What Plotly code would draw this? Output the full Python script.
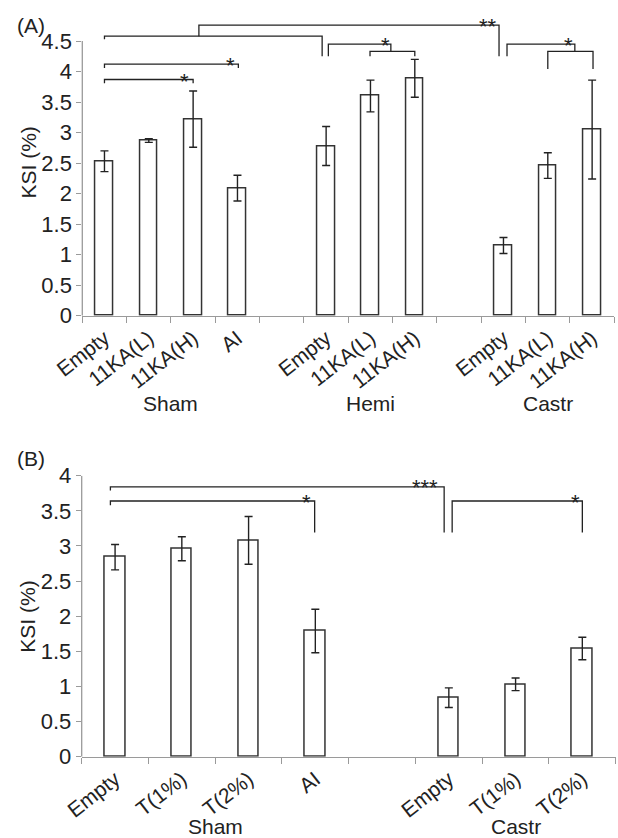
import plotly.graph_objects as go

# ---------------- data ----------------
# Panel A
a_groups = ["Sham", "Hemi", "Castr"]
a_labels = [["Empty", "11KA(L)", "11KA(H)", "AI"],
            ["Empty", "11KA(L)", "11KA(H)"],
            ["Empty", "11KA(L)", "11KA(H)"]]
a_values = [[2.53, 2.87, 3.22, 2.09],
            [2.78, 3.60, 3.89],
            [1.15, 2.46, 3.05]]
a_errors = [[0.17, 0.03, 0.46, 0.21],
            [0.32, 0.26, 0.31],
            [0.13, 0.21, 0.81]]
a_yticks = [0, 0.5, 1, 1.5, 2, 2.5, 3, 3.5, 4, 4.5]

# Panel B
b_groups = ["Sham", "Castr"]
b_labels = [["Empty", "T(1%)", "T(2%)", "AI"],
            ["Empty", "T(1%)", "T(2%)"]]
b_values = [[2.84, 2.96, 3.08, 1.79],
            [0.84, 1.03, 1.54]]
b_errors = [[0.18, 0.17, 0.34, 0.31],
            [0.14, 0.09, 0.16]]
b_yticks = [0, 0.5, 1, 1.5, 2, 2.5, 3, 3.5, 4]

# significance brackets: (x list, y list) in slot / KSI units
a_brackets = [
    ([0, 0, 4.91, 4.91], [4.53, 4.58, 4.58, 4.25]),
    ([2.13, 2.13, 8.90, 8.90], [4.58, 4.76, 4.76, 4.25]),
    ([0, 0, 3.02, 3.02], [4.06, 4.12, 4.12, 4.06]),
    ([0, 0, 2.0, 2.0], [3.81, 3.87, 3.87, 3.81]),
    ([5.05, 5.05, 6.46, 6.46], [4.25, 4.45, 4.45, 4.33]),
    ([5.99, 5.99, 7.0, 7.0], [4.25, 4.33, 4.33, 4.25]),
    ([9.08, 9.08, 10.61, 10.61], [4.25, 4.45, 4.45, 4.33]),
    ([10.0, 10.0, 11.02, 11.02], [4.04, 4.33, 4.33, 4.04]),
]
a_stars = [("**", 8.64, 4.84), ("*", 2.85, 4.20), ("*", 1.81, 3.94),
           ("*", 6.33, 4.53), ("*", 10.47, 4.53)]

b_brackets = [
    ([-0.07, -0.07, 4.93, 4.93], [3.79, 3.84, 3.84, 3.19]),
    ([-0.07, -0.07, 2.99, 2.99], [3.58, 3.64, 3.64, 3.19]),
    ([5.05, 5.05, 7.0, 7.0], [3.19, 3.64, 3.64, 3.19]),
]
b_stars = [("***", 4.65, 3.915), ("*", 2.87, 3.70), ("*", 6.90, 3.70)]

# ---------------- styling ----------------
W, H = 618, 838
FONT = "Liberation Sans, Arial, sans-serif"
TXT = "#222222"
AX = "#9a9a9a"
BAR_LINE = "#333333"
FS = 21

# panel geometry (paper fractions)
A_X = [82.3 / W, 614.3 / W]
A_Y = [1 - 315.7 / H, 1 - 10.5 / H]
A_RANGE = [0, 5.0]
B_X = [81.7 / W, 615.7 / W]
B_Y = [1 - 756.7 / H, 1 - 475.7 / H]
B_RANGE = [0, 4.0]


def layout_groups(labels):
    xs, txt, centers = [], [], []
    pos = 0
    for g in labels:
        px = list(range(pos, pos + len(g)))
        xs += px
        txt += g
        centers.append(sum(px) / len(px))
        pos += len(g) + 1
    return xs, txt, centers, pos - 1


fig = go.Figure()
annotations = []
shapes = []


def add_panel(xa, ya, groups, labels, values, errors, yticks, brackets,
              stars, xdom, ydom, yrange, barw, letter, letter_y, ksi_y, group_y):
    xs, txt, centers, nslots = layout_groups(labels)
    vals = [v for g in values for v in g]
    errs = [e for g in errors for e in g]
    fig.add_trace(go.Bar(
        x=xs, y=vals, width=barw, xaxis=xa, yaxis=ya,
        marker=dict(color="white", line=dict(color=BAR_LINE, width=1.5)),
        error_y=dict(type="data", array=errs, visible=True,
                     color=TXT, thickness=1.4, width=4),
        showlegend=False, hoverinfo="skip"))
    for bx, by in brackets:
        fig.add_trace(go.Scatter(
            x=bx, y=by, mode="lines", xaxis=xa, yaxis=ya,
            line=dict(color=TXT, width=1.3), showlegend=False,
            hoverinfo="skip"))
    axx = "xaxis" if xa == "x" else "xaxis" + xa[1:]
    axy = "yaxis" if ya == "y" else "yaxis" + ya[1:]
    bounds = [i - 0.5 for i in range(nslots + 1)]
    fig.update_layout({
        axx: dict(domain=xdom, anchor=ya, range=[-0.5, nslots - 0.5],
                  tickmode="array", tickvals=xs, ticktext=txt,
                  tickangle=-38, ticks="outside", ticklen=1,
                  tickcolor="rgba(0,0,0,0)",
                  tickfont=dict(family=FONT, size=FS, color=TXT),
                  showline=True, linecolor=AX, linewidth=1.3,
                  showgrid=False, zeroline=False, automargin=False,
                  minor=dict(tickmode="array", tickvals=bounds,
                             ticks="outside", ticklen=6, tickcolor=AX,
                             tickwidth=1.2, showgrid=False)),
        axy: dict(domain=ydom, anchor=xa, range=yrange,
                  tickmode="array", tickvals=yticks,
                  ticktext=[("%g" % t) for t in yticks],
                  ticks="outside", ticklen=5, tickcolor=AX, tickwidth=1.2,
                  tickfont=dict(family=FONT, size=22, color=TXT),
                  showline=False, showgrid=False, zeroline=False,
                  automargin=False),
    })
    shapes.append(dict(type="line", xref="paper", yref=ya,
                       x0=xdom[0], x1=xdom[0], y0=0, y1=yticks[-1],
                       line=dict(color=AX, width=1.3)))
    for s, sx, sy in stars:
        annotations.append(dict(x=sx, y=sy, xref=xa, yref=ya, text=s,
                                showarrow=False, yanchor="middle",
                                xanchor="center", yshift=-6,
                                font=dict(family=FONT, size=22, color=TXT)))
    for gname, c in zip(groups, centers):
        annotations.append(dict(x=c, y=group_y, xref=xa, yref="paper",
                                text=gname, showarrow=False,
                                xanchor="center", yanchor="middle",
                                font=dict(family=FONT, size=FS, color=TXT)))
    annotations.append(dict(x=15 / W, y=letter_y, xref="paper", yref="paper",
                            text=letter, showarrow=False, xanchor="left",
                            yanchor="middle",
                            font=dict(family=FONT, size=FS, color=TXT)))
    annotations.append(dict(x=28 / W, y=ksi_y, xref="paper", yref="paper",
                            text="KSI (%)", textangle=-90, showarrow=False,
                            xanchor="center", yanchor="middle",
                            font=dict(family=FONT, size=FS, color=TXT)))


add_panel("x", "y", a_groups, a_labels, a_values, a_errors, a_yticks,
          a_brackets, a_stars, A_X, A_Y, A_RANGE, 0.4, "(A)",
          1 - 25 / H, 1 - 162.5 / H, 1 - 403 / H)
add_panel("x2", "y2", b_groups, b_labels, b_values, b_errors, b_yticks,
          b_brackets, b_stars, B_X, B_Y, B_RANGE, 0.31, "(B)",
          1 - 458 / H, 1 - 616.7 / H, 1 - 826 / H)

fig.update_layout(width=W, height=H, margin=dict(l=0, r=0, t=0, b=0),
                  paper_bgcolor="white", plot_bgcolor="white",
                  annotations=annotations, shapes=shapes, bargap=0,
                  font=dict(family=FONT, color=TXT))

fig.write_html("out.html")
